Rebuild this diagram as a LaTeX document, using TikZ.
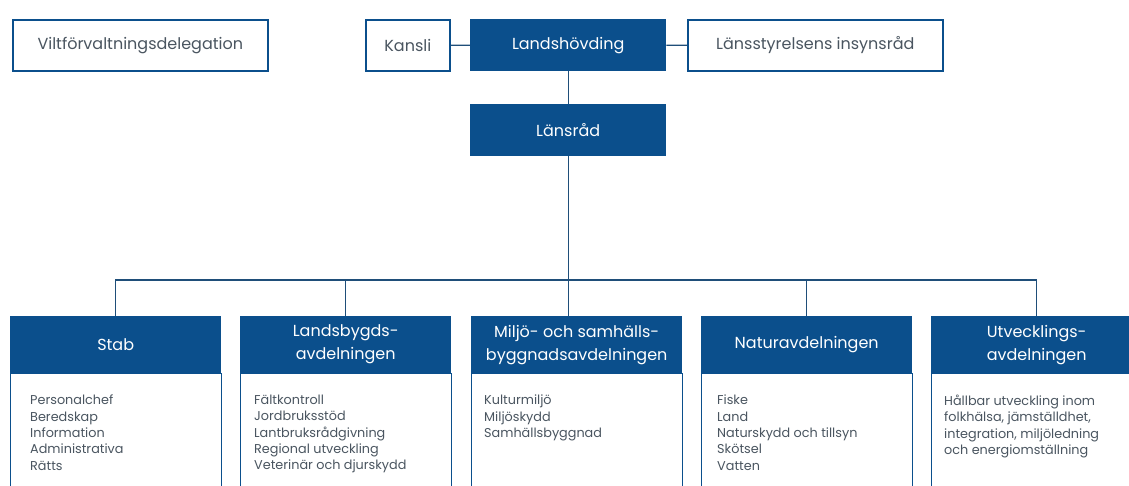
\documentclass[tikz,border=0pt]{standalone}
\usepackage{fontspec}
\setmainfont{Poppins}
\definecolor{lsblue}{HTML}{0B4F8C}
\definecolor{lsline}{HTML}{1F4E79}
\definecolor{lstext}{HTML}{4A5560}
\begin{document}
\begin{tikzpicture}[x=1pt,y=-1pt,
  topbox/.style={draw=lsblue, line width=1.6pt, fill=white, minimum height=51, inner sep=0, anchor=north west, text=lstext, font=\fontsize{16}{19}\selectfont},
  topfill/.style={fill=lsblue, minimum height=52, inner sep=0, anchor=north west, text=white, font=\fontsize{16}{19}\selectfont},
  header/.style={fill=lsblue, minimum width=211, minimum height=57, inner sep=0, anchor=north west, text=white, align=center, font=\fontsize{16}{23}\selectfont},
  bodybox/.style={draw=lsblue, line width=1.4pt, fill=white, minimum width=211, minimum height=135, inner sep=0, anchor=north west},
  bodytext/.style={anchor=north west, inner sep=0, align=left, text=lstext, font=\fontsize{12.8}{16.3}\selectfont},
  conn/.style={draw=lsline, line width=1.3pt}
]
\useasboundingbox (0,0) rectangle (1129,486);
\fill[white] (0,0) rectangle (1129,486);

% top row
\node[topbox, minimum width=255] (vilt) at (12,19) {Viltförvaltningsdelegation};
\node[topbox, minimum width=84] (kansli) at (365,19) {Kansli};
\node[topfill, minimum width=196] (landsh) at (470,19) {Landshövding};
\node[topbox, minimum width=255] (insyn) at (687,19) {Länsstyrelsens insynsråd};
\node[topfill, minimum width=196] (lansrad) at (470,104) {Länsråd};

% departments
\node[bodybox] (stabb) at (10,373) {};
\node[header] (stabh) at (10,316) {Stab};
\node[bodybox] (landb) at (240,373) {};
\node[header] (landh) at (240,316) {Landsbygds-\\avdelningen};
\node[bodybox] (miljob) at (471,373) {};
\node[header] (miljoh) at (471,316) {Miljö- och samhälls-\\byggnadsavdelningen};
\node[bodybox] (naturb) at (701,373) {};
\node[header] (naturh) at (701,316) {Naturavdelningen};
\node[bodybox] (utvb) at (931,373) {};
\node[header] (utvh) at (931,316) {Utvecklings-\\avdelningen};

\node[bodytext] (stabt) at (30,395) {Personalchef\\Beredskap\\Information\\Administrativa\\Rätts};
\node[bodytext] (landt) at (254,395) {Fältkontroll\\Jordbruksstöd\\Lantbruksrådgivning\\Regional utveckling\\Veterinär och djurskydd};
\node[bodytext] (miljot) at (484,395) {Kulturmiljö\\Miljöskydd\\Samhällsbyggnad};
\node[bodytext] (naturt) at (717,395) {Fiske\\Land\\Naturskydd och tillsyn\\Skötsel\\Vatten};
\node[bodytext] (utvt) at (944,395) {Hållbar utveckling inom\\folkhälsa, jämställdhet,\\integration, miljöledning\\och energiomställning};

% connectors
\coordinate (bus) at (567,280);
\draw[conn] (kansli.east) -- (landsh.west);
\draw[conn] (landsh.east) -- (insyn.west);
\draw[conn] (landsh.south) -- (lansrad.north);
\draw[conn] (lansrad.south) -- (lansrad.south |- miljoh.north);
\draw[conn] (stabh.north) -- (stabh.north |- bus) -- (utvh.north |- bus) -- (utvh.north);
\draw[conn] (landh.north |- bus) -- (landh.north);
\draw[conn] (naturh.north |- bus) -- (naturh.north);
\end{tikzpicture}
\end{document}
